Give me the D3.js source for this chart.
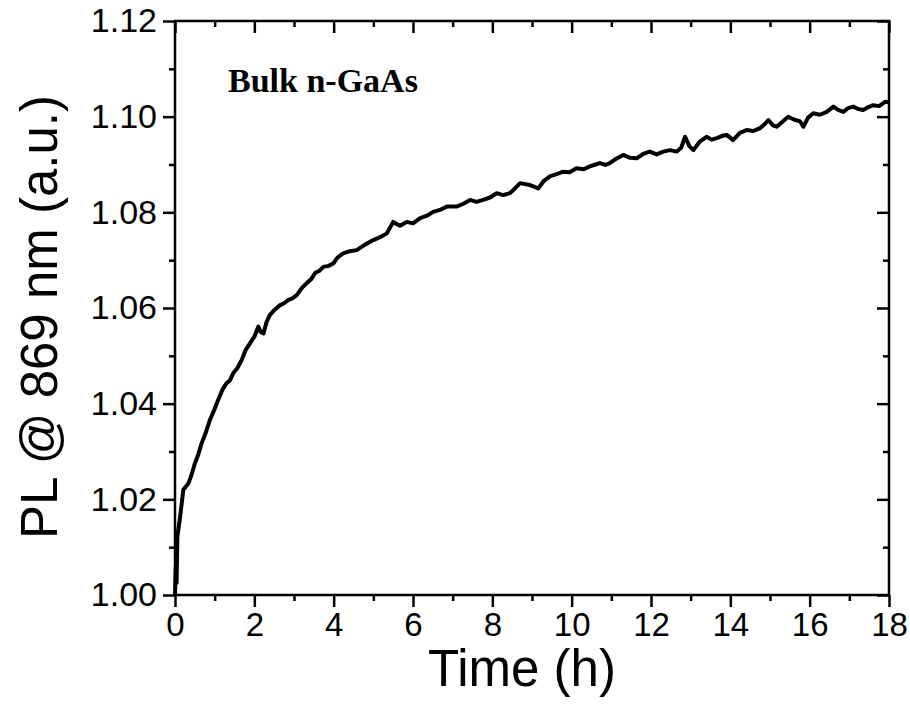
<!DOCTYPE html>
<html>
<head>
<meta charset="UTF-8">
<title>PL vs time - Bulk n-GaAs</title>
<script src="https://d3js.org/d3.v7.min.js"></script>
<style>
  body { margin: 0; background: #fff; }
  svg { display: block; }
  .tick text { font-family: Arial, "Liberation Sans", sans-serif; fill: #000; }
  .tick line { stroke: #000; stroke-width: 2.5; }
</style>
</head>
<body>
<svg id="chart" width="910" height="713"></svg>
<script>
// values
const timeH = [0, 0.02, 0.04, 0.06, 0.13, 0.21, 0.27, 0.34, 0.42, 0.5, 0.58, 0.67, 0.77, 0.88, 0.98, 1.09, 1.2, 1.3, 1.38,
  1.47, 1.57, 1.68, 1.78, 1.89, 2.0, 2.1, 2.16, 2.23, 2.31, 2.39, 2.52, 2.65, 2.75, 2.86, 2.96, 3.07, 3.2, 3.32, 3.43,
  3.53, 3.64, 3.74, 3.87, 3.99, 4.1, 4.24, 4.37, 4.58, 4.8, 5.0, 5.17, 5.34, 5.5, 5.67, 5.84, 6.0, 6.18, 6.35, 6.51,
  6.68, 6.85, 7.1, 7.27, 7.44, 7.6, 7.77, 7.94, 8.11, 8.27, 8.44, 8.57, 8.7, 8.95, 9.16, 9.3, 9.45, 9.62, 9.79, 9.95,
  10.12, 10.3, 10.46, 10.6, 10.71, 10.85, 10.96, 11.12, 11.3, 11.47, 11.64, 11.8, 11.97, 12.14, 12.31, 12.48, 12.65,
  12.76, 12.86, 12.97, 13.07, 13.23, 13.4, 13.53, 13.66, 13.8, 13.91, 14.07, 14.24, 14.41, 14.58, 14.75, 14.86, 14.96,
  15.07, 15.17, 15.32, 15.46, 15.6, 15.76, 15.84, 15.96, 16.09, 16.26, 16.43, 16.6, 16.72, 16.85, 16.97, 17.1, 17.22,
  17.35, 17.48, 17.6, 17.75, 17.9, 18.0];
const plValue = [1.000, 1.006, 1.0025, 1.0122, 1.0164, 1.022, 1.0226, 1.0234, 1.0252, 1.0275, 1.0292, 1.0317, 1.0338,
  1.0366, 1.0385, 1.0408, 1.0430, 1.0443, 1.0448, 1.0464, 1.0474, 1.0491, 1.0512, 1.0526, 1.0540, 1.0561, 1.0550,
  1.0547, 1.0571, 1.0585, 1.0597, 1.0606, 1.0610, 1.0617, 1.0620, 1.0627, 1.0642, 1.0652, 1.0660, 1.0673, 1.0678,
  1.0686, 1.0688, 1.0693, 1.0706, 1.0714, 1.0718, 1.0721, 1.0733, 1.0742, 1.0748, 1.0756, 1.0780, 1.0772, 1.0780,
  1.0777, 1.0788, 1.0793, 1.0801, 1.0805, 1.0812, 1.0812, 1.0818, 1.0826, 1.0822, 1.0826, 1.0831, 1.0840, 1.0836,
  1.0840, 1.0850, 1.0861, 1.0857, 1.0850, 1.0866, 1.0875, 1.0880, 1.0885, 1.0884, 1.0892, 1.0890, 1.0896, 1.0900,
  1.0903, 1.0899, 1.0903, 1.0912, 1.0920, 1.0914, 1.0913, 1.0922, 1.0927, 1.0921, 1.0927, 1.0930, 1.0927, 1.0935,
  1.0958, 1.0938, 1.0930, 1.0948, 1.0958, 1.0952, 1.0955, 1.0960, 1.0962, 1.0951, 1.0966, 1.0972, 1.0970, 1.0976,
  1.0984, 1.0993, 1.0982, 1.0979, 1.0990, 1.1000, 1.0994, 1.0990, 1.0979, 1.0998, 1.1007, 1.1004, 1.1010, 1.1021,
  1.1014, 1.1010, 1.1018, 1.1021, 1.1016, 1.1014, 1.1020, 1.1024, 1.1022, 1.1031, 1.1030];

const xTicks = [0, 2, 4, 6, 8, 10, 12, 14, 16, 18];
const xMinor = [1, 3, 5, 7, 9, 11, 13, 15, 17];
const yTicks = [1.00, 1.02, 1.04, 1.06, 1.08, 1.10, 1.12];
const yMinor = [1.01, 1.03, 1.05, 1.07, 1.09, 1.11];
const sampleLabel = "Bulk n-GaAs";

const data = timeH.map((t, i) => ({ t: t, v: plValue[i] }));

const svg = d3.select("#chart");
const m = { left: 175, right: 889, top: 21, bottom: 595 };

const x = d3.scaleLinear().domain([0, 18]).range([m.left, m.right]);
const y = d3.scaleLinear().domain([1.0, 1.12]).range([m.bottom, m.top]);

// helper: tick-only axis (no domain line, no labels)
function ticksOnly(axis, vals, size, pos) {
  svg.append("g").attr("transform", pos)
    .call(axis.tickValues(vals).tickSize(size).tickFormat(""))
    .call(g => g.select(".domain").remove());
}

// outward ticks: bottom and left
ticksOnly(d3.axisBottom(x), xMinor, 6, `translate(0,${m.bottom})`);
ticksOnly(d3.axisLeft(y), yMinor, 6, `translate(${m.left},0)`);
// inward ticks: top and right
ticksOnly(d3.axisBottom(x), xMinor, 6, `translate(0,${m.top})`);
ticksOnly(d3.axisBottom(x), xTicks, 12, `translate(0,${m.top})`);
ticksOnly(d3.axisLeft(y), yMinor, 6, `translate(${m.right},0)`);
ticksOnly(d3.axisLeft(y), yTicks, 12, `translate(${m.right},0)`);

const xAxis = svg.append("g").attr("transform", `translate(0,${m.bottom})`)
  .call(d3.axisBottom(x).tickValues(xTicks).tickSize(12).tickPadding(6).tickFormat(d3.format("d")))
  .call(g => g.select(".domain").remove());
const yAxis = svg.append("g").attr("transform", `translate(${m.left},0)`)
  .call(d3.axisLeft(y).tickValues(yTicks).tickSize(12).tickPadding(6).tickFormat(d3.format(".2f")))
  .call(g => g.select(".domain").remove());

xAxis.selectAll("text").attr("font-size", 33);
yAxis.selectAll("text").attr("font-size", 34);

// frame
svg.append("rect")
  .attr("x", m.left).attr("y", m.top)
  .attr("width", m.right - m.left).attr("height", m.bottom - m.top)
  .attr("fill", "none").attr("stroke", "#000").attr("stroke-width", 2.5);

svg.append("path")
  .datum(data)
  .attr("fill", "none")
  .attr("stroke", "#000")
  .attr("stroke-width", 4)
  .attr("stroke-linejoin", "round")
  .attr("d", d3.line().x(d => x(d.t)).y(d => y(d.v)));

svg.append("text")
  .attr("x", 228).attr("y", 92)
  .attr("font-family", "'Liberation Serif', 'Times New Roman', serif")
  .attr("font-weight", "bold")
  .attr("font-size", 34)
  .text(sampleLabel);

svg.append("text")
  .attr("x", 522).attr("y", 686)
  .attr("text-anchor", "middle")
  .attr("font-family", "Arial, 'Liberation Sans', sans-serif")
  .attr("font-size", 51)
  .text("Time (h)");

svg.append("text")
  .attr("transform", `translate(57,317) rotate(-90)`)
  .attr("text-anchor", "middle")
  .attr("font-family", "Arial, 'Liberation Sans', sans-serif")
  .attr("font-size", 51)
  .text("PL @ 869 nm (a.u.)");
</script>
</body>
</html>
